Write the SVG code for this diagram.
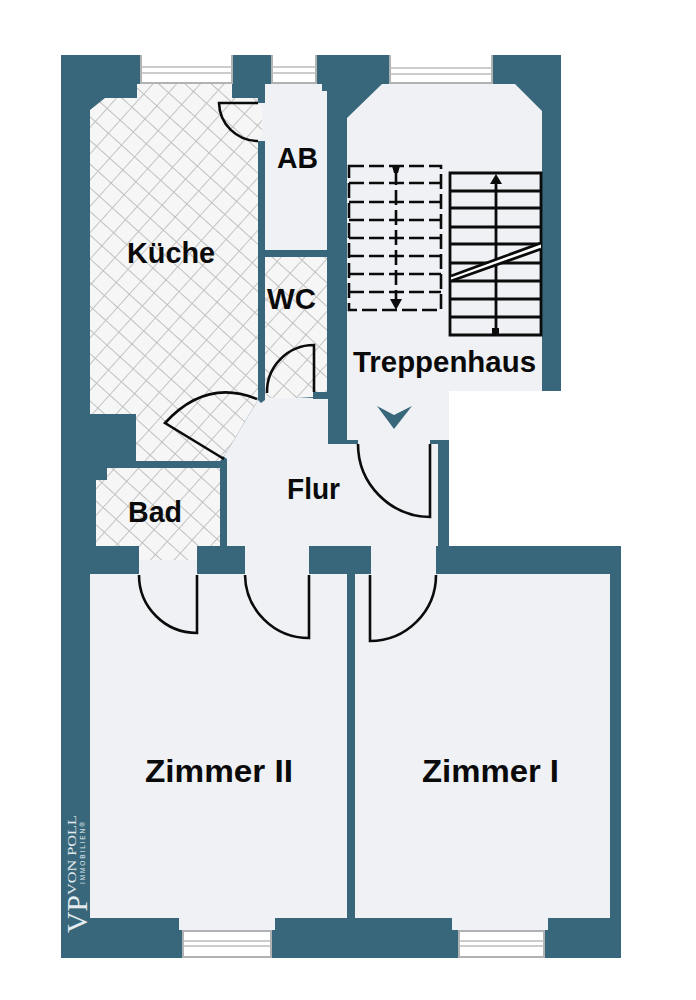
<svg xmlns="http://www.w3.org/2000/svg" width="696" height="1000" viewBox="0 0 696 1000">
<style>
.wall{fill:#38667a}
.floor{fill:#eff1f5}
.tile{fill:url(#tiles)}
.win{fill:#fff}
.winf{stroke:#b0b2b3;stroke-width:2;fill:none}
.winl{stroke:#bcbcbc;stroke-width:1.6;fill:none}
.door{fill:none;stroke:#0b0b0b;stroke-width:2.6}
.st{fill:none;stroke:#0b0b0b;stroke-width:2.8}
.da{fill:none;stroke:#0b0b0b;stroke-width:2.6;stroke-dasharray:15 5}
.lb{font-family:"Liberation Sans",Arial,sans-serif;font-weight:700;font-size:29px;fill:#0a0a0a}
.lg{font-family:"Liberation Serif","Times New Roman",serif;fill:#e3ebee}
.lg2{font-family:"Liberation Sans",Arial,sans-serif;fill:#dfe8ec}
</style>
<defs>
<pattern id="tiles" patternUnits="userSpaceOnUse" width="17.6" height="17.6" patternTransform="translate(94 96) rotate(42)">
<rect width="17.6" height="17.6" fill="#f6f6f6"/>
<path d="M0 0H17.6M0 0V17.6" stroke="#bfbfbf" stroke-width="1.8" fill="none"/>
</pattern>
</defs>
<rect width="696" height="1000" fill="#fff"/>
<g id="walls">
<path class="wall" d="M61 55H561V391H449V546H621V958H61Z"/>
</g>
<g id="kueche">
<path class="floor" d="M258 103H266V141H258Z"/>
<path class="tile" d="M90 110L105 98H137V84H232V98H258V103L262 108V135L258 141V400L223 458L220 461H136V414H90Z"/>
</g>
<g id="ab">
<path class="floor" d="M265 84H322V91H327V250H265Z"/>
</g>
<g id="wc">
<path class="tile" d="M265 257H327V392H313V397L265 400Z"/>
</g>
<g id="bad">
<path class="floor" d="M139 546H197V575H139Z"/>
<path class="tile" d="M107 468H220V546H197V560H139V546H96V480H107Z"/>
</g>
<g id="flur">
<path class="floor" d="M264 398H313V399H328V444H358V425H430V444H438V546H436V575H371V546H309V575H245V546H227V461L223 458L258 400Z"/>
<path class="wall" d="M258 141H265V400L261 403L257 399L258 398Z"/>
<path class="wall" d="M313 392H328V399H313Z"/>
<path class="wall" d="M220 461H227V546H220Z"/>
<path class="wall" d="M223 456L227 459V463H220Z"/>
</g>
<g id="treppenhaus">
<path class="floor" d="M347 118L382 84H515L542 111V391H449V440H430V444H358V440H347Z"/>
<path d="M377 406L394 415L412 406L394 429Z" fill="#38667a"/>
<g id="stair-up">
<path class="st" d="M450 173H541V335H450ZM450 191H541M450 208H541M450 227H541M450 244H541M450 263H541M450 281H541M450 299H541M450 317H541M496 180V330"/>
<path d="M451 277L541 244V249L451 281Z" fill="#fff"/>
<path d="M451 276L541 243M451 281L541 249" class="st"/>
<path d="M490 184L496 174L502 184Z" fill="#0b0b0b"/>
<rect x="492" y="328" width="7" height="7" fill="#0b0b0b"/>
</g>
<g id="stair-down">
<path class="da" d="M349 166H441V310H349Z"/>
<path class="da" d="M349 183H441M349 202H441M349 220H441M349 238H441M349 256H441M349 274H441M349 292H441M396 170V300"/>
<path d="M392 166H400L398 173H394Z" fill="#0b0b0b"/>
<path d="M390 299H402L396 310Z" fill="#0b0b0b"/>
</g>
</g>
<g id="zimmer2">
<path class="floor" d="M90 574H347V918H275V930H179V918H90Z"/>
</g>
<g id="zimmer1">
<path class="floor" d="M355 574H610V918H548V930H452V918H355Z"/>
</g>
<g id="windows">
<rect class="win" x="140" y="55" width="93" height="29"/>
<path class="winf" d="M141 55V83H232V55"/>
<path class="winl" d="M141 67H232M141 73H232"/>
<rect class="win" x="271" y="55" width="46" height="29"/>
<path class="winf" d="M272 55V83H316V55"/>
<path class="winl" d="M272 67H316M272 73H316"/>
<rect class="win" x="389" y="55" width="104" height="29"/>
<path class="winf" d="M390 55V83H492V55"/>
<path class="winl" d="M390 68H492M390 74H492"/>
<rect class="win" x="182" y="930" width="90" height="28"/>
<path class="winf" d="M183 931H271V957H183Z"/>
<path class="winl" d="M183 941H271M183 946H271"/>
<rect class="win" x="458" y="930" width="87" height="28"/>
<path class="winf" d="M459 931H544V957H459Z"/>
<path class="winl" d="M459 941H544M459 946H544"/>
</g>
<g id="connectors">
<path class="door" d="M258 103H219A39 39 0 0 0 258 141"/>
<path class="door" d="M314 392V345A47 47 0 0 0 267 393"/>
<path class="door" d="M224 459L165 423Q206 378 257 399"/>
<path class="door" d="M358 444A73 73 0 0 0 430 517V444"/>
<path class="door" d="M139 575A58 58 0 0 0 197 633V575"/>
<path class="door" d="M245 575A64 64 0 0 0 309 638V575"/>
<path class="door" d="M436 575A66 66 0 0 1 370 641V575"/>
</g>
<g id="labels">
<text class="lb" x="127" y="263" textLength="88" lengthAdjust="spacingAndGlyphs">Küche</text>
<text class="lb" x="277" y="168" textLength="41" lengthAdjust="spacingAndGlyphs">AB</text>
<text class="lb" x="267" y="309" textLength="49" lengthAdjust="spacingAndGlyphs">WC</text>
<text class="lb" x="353" y="372" textLength="183" lengthAdjust="spacingAndGlyphs">Treppenhaus</text>
<text class="lb" x="287" y="499" textLength="53" lengthAdjust="spacingAndGlyphs">Flur</text>
<text class="lb" x="128" y="522" textLength="54" lengthAdjust="spacingAndGlyphs">Bad</text>
<text class="lb" x="145" y="782" textLength="148" lengthAdjust="spacingAndGlyphs" style="font-size:31px">Zimmer II</text>
<text class="lb" x="422" y="782" textLength="137" lengthAdjust="spacingAndGlyphs" style="font-size:31px">Zimmer I</text>
</g>
<g id="logo">
<text class="lg" transform="translate(87 933) rotate(-90)" font-size="30" textLength="38" lengthAdjust="spacingAndGlyphs">VP</text>
<text class="lg" transform="translate(76 895) rotate(-90)" font-size="13.5" textLength="80" lengthAdjust="spacingAndGlyphs">VON POLL</text>
<text class="lg2" transform="translate(85 884) rotate(-90)" font-size="6.5" textLength="62">IMMOBILIEN®</text>
</g>
</svg>
